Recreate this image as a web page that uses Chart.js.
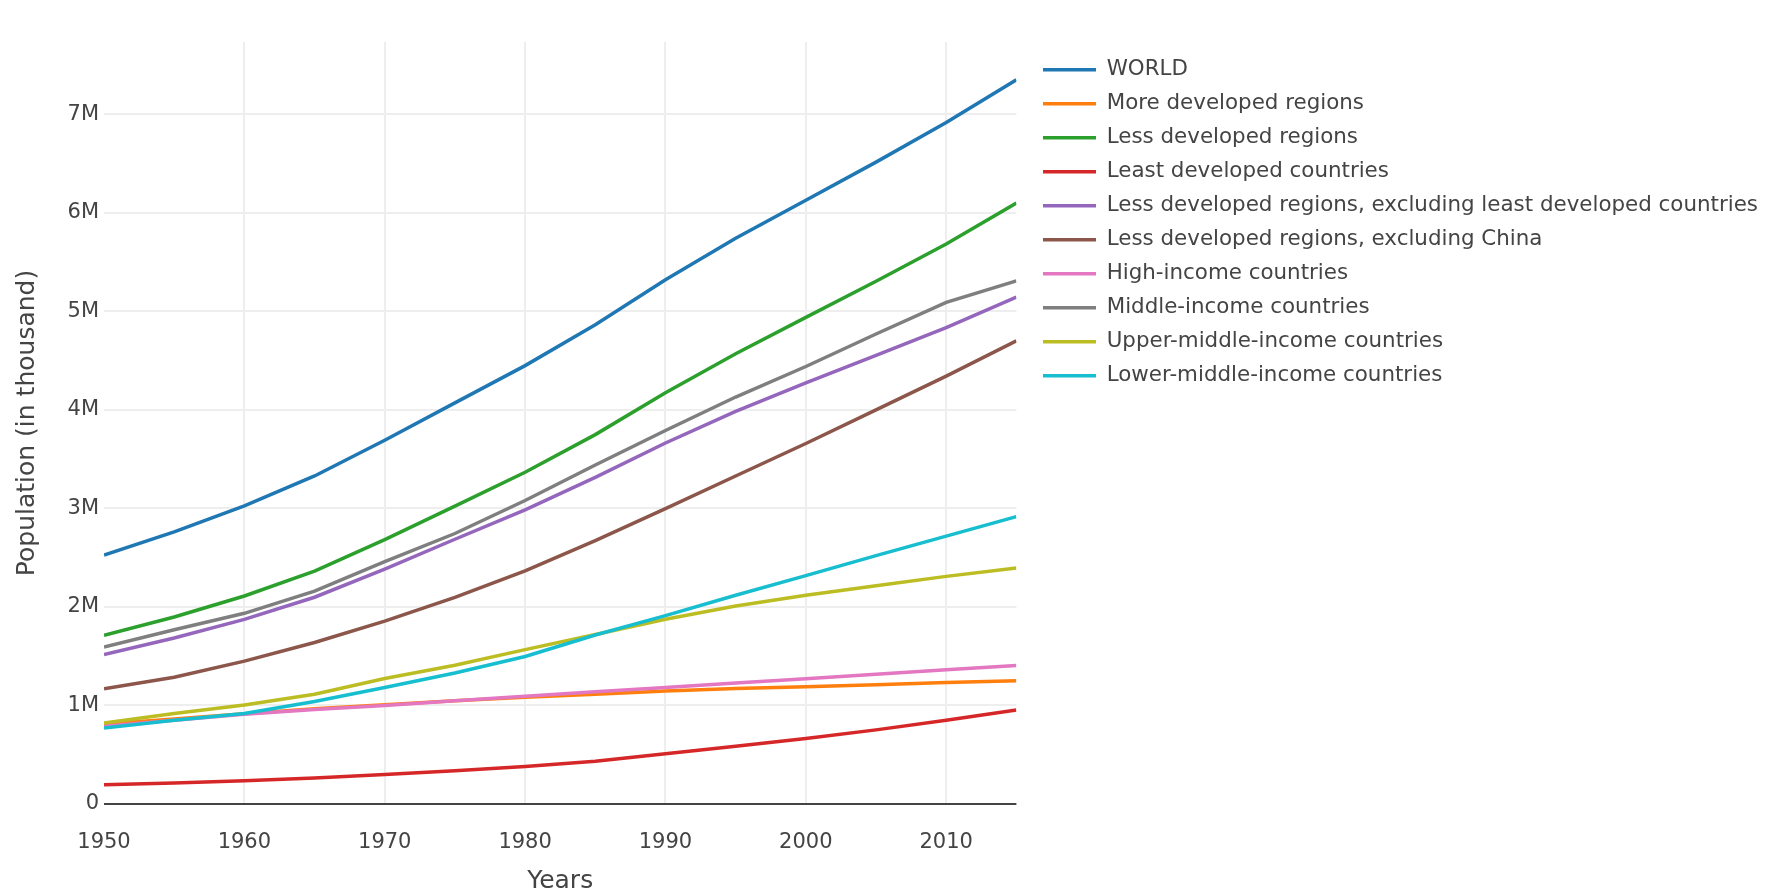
<!DOCTYPE html>
<html>
<head>
<meta charset="utf-8">
<title>Population (in thousand)</title>
<script src="https://cdn.jsdelivr.net/npm/chart.js@4.4.1/dist/chart.umd.min.js"></script>
<style>
	html, body { margin: 0; padding: 0; background: #fff; }
	#holder { width: 1768px; height: 894px; }
</style>
</head>
<body>
<div id="holder"><canvas id="chart" width="1768" height="894"></canvas></div>
<script>
// values in thousands, every 5 years
var years = [1950, 1955, 1960, 1965, 1970, 1975, 1980, 1985, 1990, 1995, 2000, 2005, 2010, 2015];

var world = [2525779, 2761651, 3026003, 3329122, 3691173, 4071020, 4449049, 4863602, 5320817, 5741822, 6127700, 6514095, 6916183, 7349472];
var moreDeveloped = [812989, 863395, 915242, 965863, 1007573, 1047360, 1082651, 1114898, 1147220, 1172496, 1188811, 1209080, 1233376, 1251351];
var lessDeveloped = [1712790, 1898256, 2110761, 2363259, 2683600, 3023660, 3366398, 3748704, 4173597, 4569326, 4938889, 5305015, 5682807, 6098121];
var leastDeveloped = [195259, 214030, 236842, 264878, 298812, 336981, 381470, 433525, 510058, 585302, 664386, 752188, 848999, 954158];
var lessDevExclLeast = [1517531, 1684226, 1873919, 2098381, 2384788, 2686679, 2984928, 3315179, 3663539, 3984024, 4274503, 4552827, 4833808, 5143963];
var lessDevExclChina = [1168677, 1286014, 1450353, 1639040, 1855999, 2097419, 2366309, 2673115, 2996713, 3328405, 3658460, 3999414, 4341838, 4700000];
var highIncome = [789000, 850000, 911000, 958000, 1000000, 1047000, 1093000, 1138000, 1183000, 1228000, 1272000, 1317000, 1362000, 1405000];
var middleIncome = [1594000, 1768000, 1935000, 2160000, 2460000, 2745000, 3080000, 3440000, 3790000, 4130000, 4440000, 4770000, 5090000, 5309000];
var upperMiddle = [822000, 918000, 1004000, 1114000, 1273000, 1408000, 1567000, 1720000, 1875000, 2010000, 2118000, 2215000, 2310000, 2395000];
var lowerMiddle = [772000, 850000, 918000, 1040000, 1182000, 1330000, 1497000, 1715000, 1912000, 2118000, 2318000, 2520000, 2718000, 2917000];

var seriesNames = [
	'WORLD',
	'More developed regions',
	'Less developed regions',
	'Least developed countries',
	'Less developed regions, excluding least developed countries',
	'Less developed regions, excluding China',
	'High-income countries',
	'Middle-income countries',
	'Upper-middle-income countries',
	'Lower-middle-income countries'
];
var seriesColors = ['#1f77b4', '#ff7f0e', '#2ca02c', '#d62728', '#9467bd', '#8c564b', '#e377c2', '#7f7f7f', '#bcbd22', '#17becf'];

var yTickValues = [0, 1000000, 2000000, 3000000, 4000000, 5000000, 6000000, 7000000];
var yTickLabels = ['0', '1M', '2M', '3M', '4M', '5M', '6M', '7M'];

(function () {
	'use strict';

	var series = [world, moreDeveloped, lessDeveloped, leastDeveloped, lessDevExclLeast,
		lessDevExclChina, highIncome, middleIncome, upperMiddle, lowerMiddle];

	Chart.defaults.font.family = '"DejaVu Sans", Verdana, sans-serif';
	Chart.defaults.color = '#444';

	var datasets = series.map(function (values, i) {
		return {
			label: seriesNames[i],
			data: values.map(function (v, j) { return {x: years[j], y: v}; }),
			borderColor: seriesColors[i],
			backgroundColor: seriesColors[i],
			borderWidth: 3.5,
			pointRadius: 0,
			pointHoverRadius: 0,
			tension: 0,
			fill: false,
			// later traces sit on top, like the original
			order: series.length - i
		};
	});

	new Chart(document.getElementById('chart'), {
		type: 'line',
		data: {datasets: datasets},
		options: {
			responsive: false,
			animation: false,
			devicePixelRatio: 1,
			layout: {padding: {top: 42, right: 0, bottom: 0, left: 0}},
			plugins: {
				legend: {
					position: 'right',
					align: 'start',
					maxWidth: 800,
					// empty title only pushes the rows down a little
					title: {display: true, text: '', font: {size: 4.5, lineHeight: 1}, padding: 0},
					labels: {
						usePointStyle: true,
						pointStyle: 'line',
						pointStyleWidth: 53,
						boxHeight: 21.4,
						padding: 12.6,
						color: '#444',
						font: {size: 21.4},
						sort: function (a, b) { return a.datasetIndex - b.datasetIndex; }
					}
				},
				tooltip: {enabled: false}
			},
			scales: {
				x: {
					type: 'linear',
					min: 1950,
					max: 2015,
					border: {display: false},
					grid: {
						color: function (ctx) {
							return ctx.tick && ctx.tick.value === 1950 ? 'rgba(0,0,0,0)' : '#eeeeee';
						},
						lineWidth: 2,
						drawTicks: false
					},
					ticks: {
						stepSize: 10,
						includeBounds: false,
						padding: 26,
						maxRotation: 0,
						color: '#444',
						font: {size: 21},
						callback: function (v) { return String(v); }
					},
					title: {
						display: true,
						text: 'Years',
						color: '#444',
						font: {size: 25, lineHeight: 1},
						padding: {top: 0, bottom: 0}
					},
					afterFit: function (scale) { scale.height = 90; }
				},
				y: {
					min: 0,
					max: 7733000,
					border: {display: false},
					grid: {
						color: function (ctx) {
							return ctx.tick && ctx.tick.value === 0 ? '#444444' : '#eeeeee';
						},
						lineWidth: 2,
						drawTicks: false
					},
					afterBuildTicks: function (scale) {
						scale.ticks = yTickValues.map(function (v) { return {value: v}; });
					},
					ticks: {
						padding: 5,
						color: '#444',
						font: {size: 21},
						callback: function (v) { return yTickLabels[yTickValues.indexOf(v)]; }
					},
					title: {
						display: true,
						text: 'Population (in thousand)',
						color: '#444',
						font: {size: 25, lineHeight: 1},
						padding: {top: 14.5, bottom: 0}
					},
					afterFit: function (scale) { scale.width = 104; }
				},
				// empty axis, only keeps the gap between plot and legend
				gap: {
					type: 'linear',
					axis: 'y',
					position: 'right',
					grid: {display: false},
					ticks: {display: false},
					border: {display: false},
					afterFit: function (scale) { scale.width = 14; }
				}
			}
		}
	});
})();
</script>
</body>
</html>
